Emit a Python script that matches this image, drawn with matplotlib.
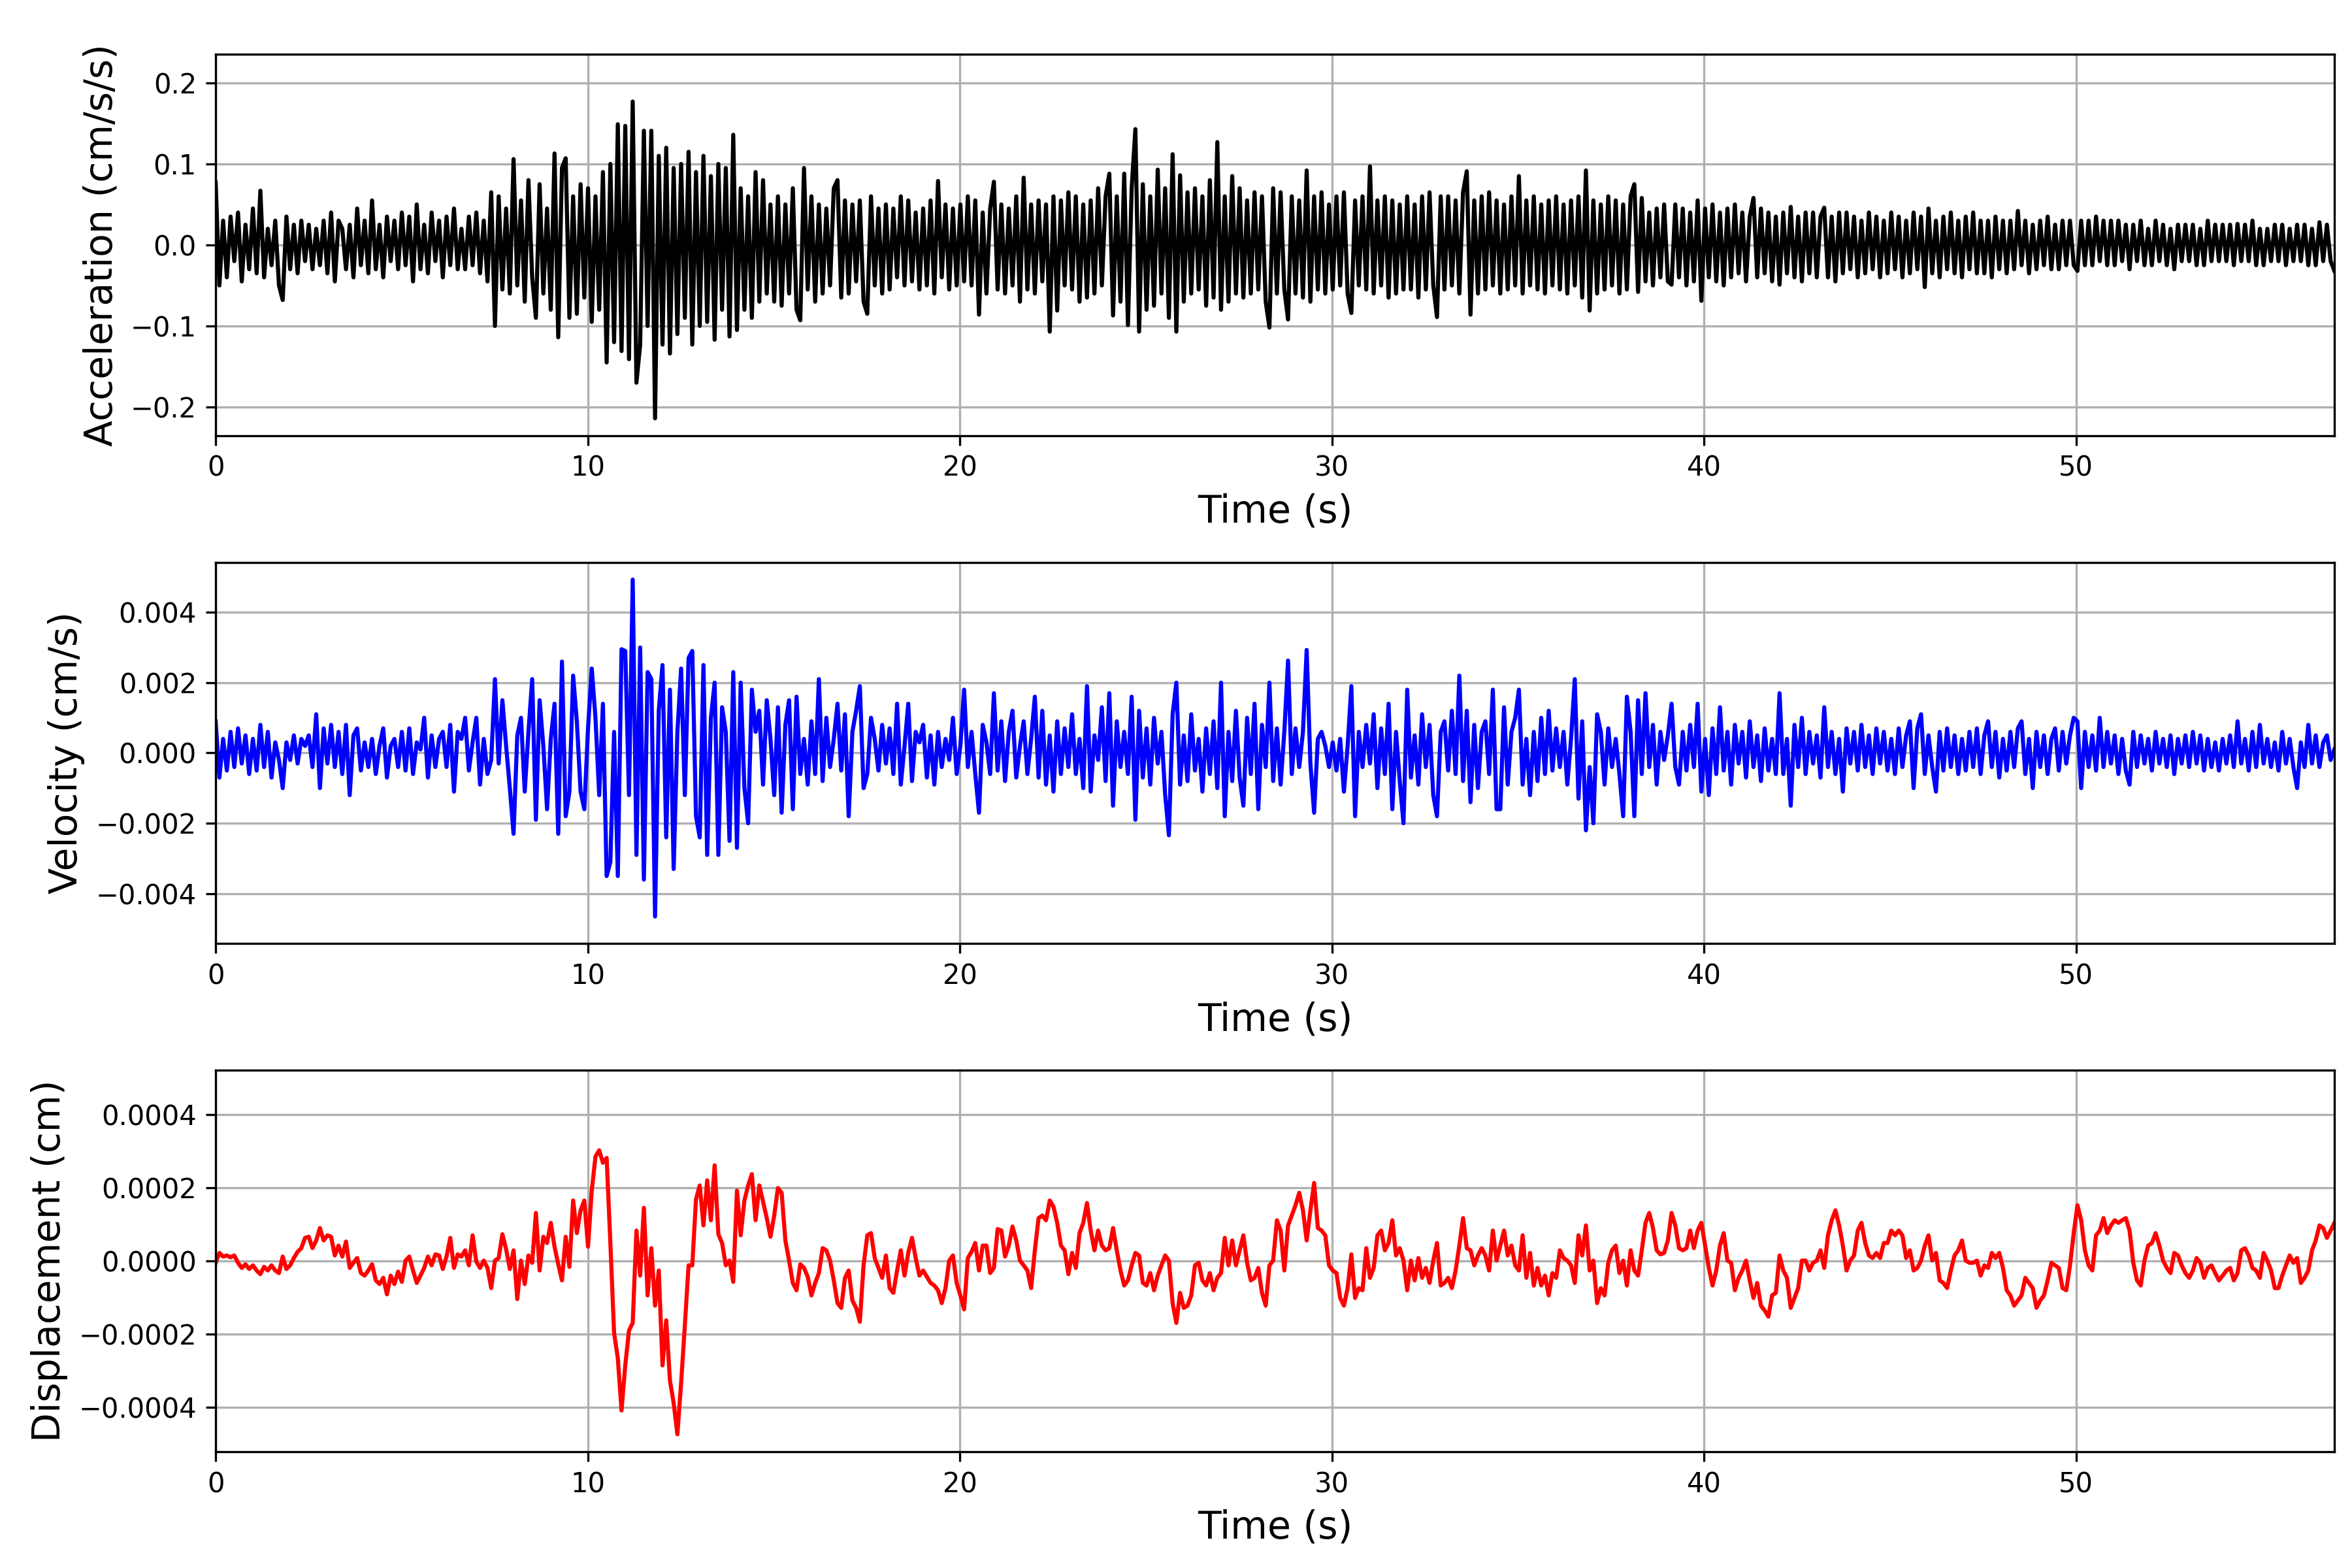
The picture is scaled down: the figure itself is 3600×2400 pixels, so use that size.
import numpy as np
import matplotlib
matplotlib.use("Agg")
from matplotlib import pyplot as plt

# registro, una fila = 1 s (paso 0.1 s)
t_end = 56.94

# aceleracion en 1e-3 cm/s/s
acc_milli = [
    77, -50, 30, -40, 35, -20, 40, -45, 25, -30,
    45, -35, 67, -40, 20, -25, 30, -50, -68, 35,
    -30, 25, -35, 30, -20, 25, -30, 20, -25, 30,
    -35, 40, -45, 30, 20, -30, 25, -40, 45, -25,
    30, -35, 55, -30, 25, -40, 35, -20, 30, -30,
    40, -25, 35, -45, 50, -30, 25, -35, 40, -20,
    30, -40, 35, -25, 45, -30, 20, -30, 35, -25,
    40, -35, 30, -45, 65, -100, 60, -55, 45, -60,
    106, -50, 55, -70, 80, -40, -90, 75, -60, 45,
    -80, 113, -114, 95, 107, -90, 60, -85, 75, -65,
    70, -95, 60, -80, 90, -145, 100, -120, 149, -131,
    147, -141, 177, -170, -123, 141, -100, 141, -214, 110,
    -123, 120, -134, 95, -110, 100, -90, 115, -123, 90,
    -100, 110, -95, 85, -117, 100, -80, 95, -113, 136,
    -105, 70, -80, 60, -90, 90, -70, 80, -60, 50,
    -70, 60, -75, 50, -60, 70, -80, -93, 95, -55,
    60, -70, 50, -60, 45, -50, 70, 80, -65, 55,
    -60, 50, -45, 55, -70, -85, 60, -50, 45, -60,
    50, -55, 45, -40, 60, -50, 55, -45, 40, -55,
    45, -50, 55, -60, 79, -40, 50, -55, 45, -50,
    50, -45, 60, -50, 55, -86, 40, -60, 45, 78,
    -55, 50, -60, 45, -50, 60, -70, 83, -55, 50,
    -60, 55, -45, 50, -107, 60, -81, 55, -50, 65,
    -55, 60, -70, 50, -65, 55, -60, 70, -50, 60,
    88, -87, 60, -70, 88, -99, 70, 143, -107, 75,
    -80, 60, -75, 93, -60, 70, -90, 112, -107, 86,
    -70, 65, -60, 70, -55, 60, -75, 80, -65, 127,
    -80, 60, -70, 85, -60, 70, -65, 55, -60, 65,
    -55, 60, -70, -102, 70, -60, 65, -55, -92, 60,
    -60, 55, -65, 92, -70, 60, -55, 65, -60, 50,
    -55, 60, -50, 65, -60, -84, 55, -50, 60, -55,
    97, -60, 55, -50, 60, -65, 55, -60, 50, -55,
    60, -55, 50, -65, 60, -55, 65, -50, -89, 60,
    -55, 60, -50, 55, -60, 65, 91, -86, 55, -60,
    60, -55, 65, -50, 55, -60, 50, -55, 60, -50,
    85, -60, 55, -50, 60, -55, 50, -60, 55, -50,
    60, -55, 50, -60, 55, -50, 60, -65, 92, -81,
    55, -60, 50, -55, 60, -50, 55, -60, 50, -55,
    60, 75, -58, 58, -45, 40, -50, 45, -40, 50,
    -45, -49, 50, -40, 45, -50, 40, -45, 55, -69,
    45, -40, 50, -45, 40, -50, 45, -40, 50, -35,
    40, -45, 35, 58, -40, 45, -35, 40, -45, 35,
    -49, 40, -35, 47, -40, 35, -45, 40, -35, 40,
    -40, 35, 46, -40, 35, -45, 40, -35, 40, -30,
    35, -40, 30, -35, 40, -30, 35, -40, 30, -35,
    40, -30, 35, -40, 30, -35, 40, -30, 35, -52,
    45, -35, 30, -40, 35, -30, 40, -35, 30, -40,
    35, -30, 40, -35, 30, -35, 30, -40, 35, -30,
    30, -35, 30, -30, 42, -25, 30, -35, 25, -30,
    30, -25, 35, -30, 25, -30, 30, -25, 30, -25,
    -32, 30, -25, 30, -25, 35, -20, 30, -25, 30,
    -25, 30, -20, 25, -30, 25, -20, 30, -25, 20,
    -25, 30, -20, 25, -25, 20, -30, 25, -20, 25,
    -20, 25, -25, 20, -25, 30, -20, 25, -20, 25,
    -20, 25, -25, 26, -20, 25, -20, 30, -25, 20,
    -25, 20, -20, 25, -20, 25, -25, 20, -20, 25,
    -20, 25, -25, 20, -25, 28, -20, 25, -20, -32,
]

# velocidad en 1e-5 cm/s
vel_e5 = [
    90, -70, 40, -50, 60, -40, 70, -30, 50, -60,
    40, -50, 80, -40, 60, -70, 30, -20, -100, 30,
    -20, 50, -30, 40, 20, 50, -40, 110, -100, 70,
    -30, 80, -40, 60, -60, 80, -120, 50, 70, -50,
    30, -40, 40, -60, 20, 70, -70, 20, 40, -40,
    60, -50, 70, -60, 30, 10, 100, -70, 50, -40,
    40, 60, -40, 80, -110, 60, 40, 100, -50, 30,
    100, -90, 40, -60, -20, 210, -30, 150, 20, -100,
    -230, 50, 100, -110, 60, 210, -190, 150, 20, -160,
    40, 140, -230, 260, -180, -110, 220, 90, -110, -160,
    70, 240, 100, -120, 140, -350, -310, 60, -350, 295,
    290, -120, 493, -290, 300, -360, 230, 210, -465, 120,
    250, -240, 180, -330, 60, 240, -120, 270, 290, -180,
    -240, 250, -290, 100, 200, -290, 130, 60, -250, 230,
    -270, 200, -100, -200, 180, 60, 120, -90, 150, 40,
    -120, 130, -170, 80, 150, -160, 160, -60, 40, -90,
    90, -60, 210, -80, 100, -40, 40, 140, -50, 110,
    -180, 60, 120, 190, -100, -60, 100, 40, -50, 80,
    -30, 70, -60, 140, -90, 20, 140, -80, 60, 30,
    80, -70, 50, -90, 60, -40, 40, -20, 100, -60,
    20, 180, -40, 60, -60, -170, 80, 30, -60, 170,
    -50, 90, -80, 60, 120, -70, 20, 90, -60, 40,
    160, -70, 120, -90, 50, -110, 90, -60, 70, -40,
    110, -60, 40, -100, 190, -110, 50, -20, 130, -80,
    170, -150, 90, -40, 60, -60, 160, -190, 120, -70,
    70, -90, 100, -30, 60, -120, -234, 110, 200, -90,
    50, -80, 110, -50, 40, -110, 70, -60, 90, -100,
    200, -180, 60, -80, 120, -70, -150, 100, -60, 140,
    -160, 80, -40, 200, -80, 70, -90, 60, 263, -60,
    70, -40, 60, 293, -30, -170, 40, 60, 20, -40,
    30, -50, 40, -110, 20, 190, -180, 60, -40, 80,
    -30, 110, -100, 70, -60, 140, -160, 60, -80, -200,
    180, -70, 50, -90, 110, -40, 80, -120, -180, 60,
    90, -50, 120, -60, 220, -80, 120, -140, 80, -100,
    60, 90, -60, 180, -160, -160, 130, -90, 60, 100,
    180, -90, 40, -120, 60, -80, 100, -60, 120, -50,
    70, -40, 60, -90, 40, 210, -130, 90, -220, -40,
    -200, 110, 60, -90, 70, -40, 40, -60, -180, 160,
    60, -180, 150, -60, 170, -40, 80, -90, 60, -20,
    50, 140, -40, -90, 60, -50, 80, -40, 140, -110,
    40, -120, 70, -60, 130, -50, 60, -90, 80, -30,
    60, -70, 90, -40, 50, -80, 70, -50, 40, -60,
    170, -60, 40, -150, 80, -40, 100, -60, 60, -30,
    50, -70, 130, -40, 60, -60, 40, -110, 70, -30,
    60, -50, 80, -40, 50, -60, 70, -30, 60, -50,
    40, -60, 70, -40, 50, 90, -100, 70, 110, -60,
    50, -40, -110, 60, -50, 70, -40, 50, -60, 40,
    -50, 60, -40, 70, -60, 50, 90, -40, 60, -70,
    40, -50, 60, -40, 70, 90, -60, 40, -100, 60,
    -40, 50, -60, 40, 70, -50, 60, -30, 50, 100,
    90, -100, 60, -40, 50, -50, 100, -40, 60, -30,
    50, -60, 40, -50, -90, 60, -40, 50, -30, 40,
    -50, 60, -30, 40, -40, 50, -60, 40, -30, 50,
    -40, 60, -30, 50, -50, 40, -40, 30, -50, 40,
    -30, 50, -40, 90, -30, 40, -50, 60, -40, 80,
    -30, 40, -40, 30, -50, 60, -30, 40, -40, -100,
    30, -40, 80, -30, 50, -40, 30, 50, -20, 10,
]

# desplazamiento en 1e-6 cm
disp_e6 = [
    -5, 22, 12, 15, 10, 15, -5, -19, -9, -22,
    -12, -26, -36, -16, -26, -12, -26, -33, 12, -22,
    -12, 8, 25, 35, 63, 66, 35, 56, 90, 56,
    70, 66, 15, 42, 12, 53, -19, -5, 8, -33,
    -40, -26, -9, -53, -63, -46, -91, -40, -63, -29,
    -57, 1, 12, -26, -60, -40, -19, 12, -12, 18,
    15, -22, 12, 63, -19, 18, 12, 29, -12, 70,
    -2, -19, 1, -19, -74, 1, 8, 73, 32, -22,
    29, -104, 1, -63, 15, -5, 131, -26, 66, 49,
    104, 39, -9, -53, 66, -16, 165, 76, 138, 165,
    39, 192, 285, 302, 268, 281, 49, -197, -265, -408,
    -285, -190, -169, 83, -40, 145, -94, 35, -122, -26,
    -285, -162, -326, -388, -473, -333, -176, -12, -12, 169,
    206, 97, 220, 111, 261, 73, 49, -12, 1, -57,
    192, 70, 165, 206, 237, 111, 206, 162, 117, 66,
    124, 199, 186, 56, 1, -60, -80, -9, -19, -43,
    -94, -60, -33, 35, 29, 1, -53, -115, -128, -46,
    -26, -108, -128, -166, -12, 70, 76, 8, -19, -46,
    15, -74, -87, -26, 29, -40, 22, 63, 8, -40,
    -26, -43, -60, -67, -80, -115, -74, 1, 15, -60,
    -94, -132, 8, 25, 49, -26, 42, 42, -33, -19,
    87, 83, 12, 42, 94, 56, 1, -12, -26, -74,
    29, 117, 124, 111, 165, 148, 104, 42, 29, -36,
    22, -19, 76, 104, 158, 83, 29, 83, 42, 29,
    35, 90, 29, -26, -67, -53, -12, 22, 15, -60,
    -67, -33, -80, -40, -12, 15, 1, -115, -169, -87,
    -128, -122, -94, -12, -5, -53, -67, -33, -80, -46,
    -33, 63, -12, 56, -12, 29, 70, -5, -53, -46,
    -19, -87, -122, -12, 1, 111, 83, -26, 97, 124,
    152, 186, 138, 56, 138, 213, 90, 83, 70, -12,
    -26, -33, -101, -122, -74, 18, -101, -74, -80, 35,
    -46, -19, 70, 83, 29, 49, 111, 15, 35, 1,
    -80, 1, -53, 8, -46, -19, -60, 1, 49, -67,
    -60, -46, -74, -26, 42, 117, 35, 29, -12, 15,
    35, 15, -26, 83, 1, 42, 83, 15, 42, -12,
    -26, 70, -46, 22, -67, -19, -67, -40, -94, -33,
    -46, 29, 8, 1, -12, -60, 70, 15, 97, -26,
    1, -115, -74, -94, -5, 29, 42, -33, 1, -67,
    29, -26, -40, 29, 104, 131, 90, 29, 18, 22,
    56, 131, 97, 35, 29, 35, 83, 35, 83, 104,
    42, -19, -67, -26, 42, 76, 1, -5, -80, -46,
    -26, 1, -53, -101, -60, -122, -135, -152, -94, -87,
    15, -26, -46, -128, -101, -74, 1, 1, -26, -5,
    1, 29, -19, 70, 111, 138, 97, 42, -26, 1,
    15, 83, 104, 49, 15, 8, 22, 8, 49, 49,
    83, 70, 83, 70, 8, 29, -26, -19, 1, 42,
    70, 1, 22, -53, -60, -74, -26, 15, 29, 56,
    1, -5, -5, 1, -40, -12, -19, 22, 8, 22,
    -19, -80, -94, -122, -108, -94, -46, -60, -74, -128,
    -108, -94, -53, -5, -12, -19, -74, -80, -12, 76,
    152, 111, 29, -12, -26, 70, 83, 117, 76, 97,
    111, 104, 111, 117, 83, -5, -53, -67, 1, 42,
    49, 76, 42, 1, -19, -33, 22, 15, -12, -33,
    -46, -26, 8, -5, -46, -19, -12, -33, -53, -40,
    -26, -19, -53, -33, 29, 35, 15, -19, -26, -46,
    22, 1, -26, -74, -74, -40, -12, 15, -5, 8,
    -60, -46, -26, 29, 56, 97, 90, 63, 83, 104,
]

acc = np.array(acc_milli) * 1e-3
vel = np.array(vel_e5) * 1e-5
disp = np.array(disp_e6) * 1e-6

series = [
    (acc, 'k', 'Acceleration (cm/s/s)'),
    (vel, 'b', 'Velocity (cm/s)'),
    (disp, 'r', 'Displacement (cm)'),
]

fig, axes = plt.subplots(3, 1, figsize=(12, 8), dpi=300)

for ax, (y, color, label) in zip(axes, series):
    t = np.linspace(0, t_end, len(y))
    ax.plot(t, y, color=color, linewidth=1.5)
    lim = 1.1 * np.max(np.abs(y))
    ax.set_ylim(-lim, lim)
    ax.set_xlim(0, t[-1])
    ax.set_xlabel('Time (s)', fontsize=14)
    ax.set_ylabel(label, fontsize=14)
    ax.grid(True)

plt.subplots_adjust(left=0.0917, right=0.9925, top=0.9654, bottom=0.0742, hspace=0.332)
plt.savefig('out.png', dpi=300)
